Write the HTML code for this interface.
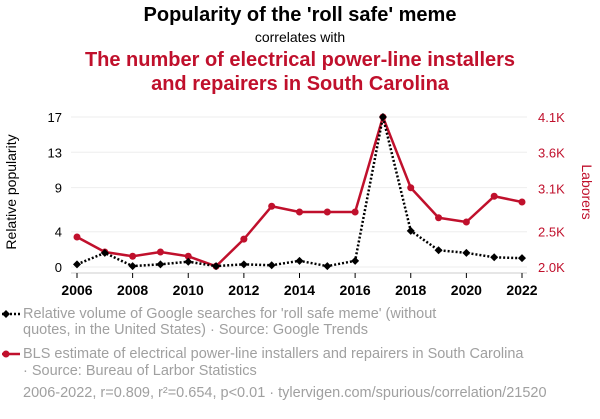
<!DOCTYPE html>
<html><head><meta charset="utf-8">
<style>
body{margin:0;background:#fff;font-family:"Liberation Sans",sans-serif;}
svg text{font-family:"Liberation Sans",sans-serif;}
</style></head>
<body>
<svg width="600" height="414" viewBox="0 0 600 414">
<text x="300" y="21" text-anchor="middle" font-size="20" font-weight="bold" fill="#000">Popularity of the 'roll safe' meme</text>
<text x="300" y="42" text-anchor="middle" font-size="14" fill="#000">correlates with</text>
<text x="300" y="66" text-anchor="middle" font-size="20" font-weight="bold" fill="#c0102c">The number of electrical power-line installers</text>
<text x="300" y="90" text-anchor="middle" font-size="20" font-weight="bold" fill="#c0102c">and repairers in South Carolina</text>
<g id="grid"></g>
<line x1="71" y1="273" x2="527" y2="273" stroke="#ccc" stroke-width="1"/>
<g id="axes"></g>
<text transform="translate(16,192) rotate(-90)" text-anchor="middle" font-size="14" fill="#000">Relative popularity</text>
<text transform="translate(582,192) rotate(90)" text-anchor="middle" font-size="14" fill="#c0102c">Laborers</text>
<g id="series"></g>
<g>
<line x1="2" y1="314" x2="20" y2="314" stroke="#000" stroke-width="2.5" stroke-dasharray="2,2"/>
<path d="M2 314 L6 310 L10 314 L6 318 Z" fill="#000"/>
<text x="23" y="318" font-size="14.5" fill="#a0a0a0">Relative volume of Google searches for 'roll safe meme' (without</text>
<text x="23" y="334" font-size="14.5" fill="#a0a0a0">quotes, in the United States) · Source: Google Trends</text>
</g>
<g>
<line x1="2" y1="354" x2="20" y2="354" stroke="#c0102c" stroke-width="2.5"/>
<circle cx="6" cy="354" r="3.5" fill="#c0102c"/>
<text x="23" y="358" font-size="14.5" fill="#a0a0a0">BLS estimate of electrical power-line installers and repairers in South Carolina</text>
<text x="23" y="375" font-size="14.5" fill="#a0a0a0">· Source: Bureau of Larbor Statistics</text>
</g>
<text x="23" y="397" font-size="14.5" fill="#a0a0a0">2006-2022, r=0.809, r²=0.654, p&lt;0.01 · tylervigen.com/spurious/correlation/21520</text>
</svg>
<script>
const years=[2006,2007,2008,2009,2010,2011,2012,2013,2014,2015,2016,2017,2018,2019,2020,2021,2022];
const popularity=[0.3,1.6,0.1,0.3,0.6,0.1,0.3,0.2,0.7,0.1,0.7,17,4.1,1.9,1.6,1.1,1.0];
const laborers=[2420,2210,2150,2210,2150,2010,2390,2850,2770,2770,2770,4100,3110,2690,2630,2990,2910];
const xTicks=[2006,2008,2010,2012,2014,2016,2018,2020,2022];
const leftTicks=[0,4,9,13,17];
const rightTicks=[2000,2500,3100,3600,4100];
const rightTickLabels=["2.0K","2.5K","3.1K","3.6K","4.1K"];
const NS="http://www.w3.org/2000/svg";
const X=y=>77+(y-2006)*(522-77)/16;
const YL=v=>267-v*150/17;
const YR=v=>267-(v-2000)*150/2100;
function mk(tag,attrs,parent){const e=document.createElementNS(NS,tag);for(const k in attrs)e.setAttribute(k,attrs[k]);parent.appendChild(e);return e;}
const grid=document.getElementById('grid'),axes=document.getElementById('axes'),series=document.getElementById('series');
leftTicks.forEach((t,i)=>{
 const g=mk('line',{x1:71,x2:527,y1:YL(t),y2:YL(t),stroke:'#eee','stroke-width':1},grid);
 
 
 const tx=mk('text',{x:62,y:YL(t)+5,'text-anchor':'end','font-size':13,fill:'#000'},axes);
 tx.textContent=t;
 
 
});
rightTicks.forEach((t,i)=>{
 const tx=mk('text',{x:538,y:YR(t)+5,'font-size':13,fill:'#c0102c'},axes);
 tx.textContent=rightTickLabels[i];
 
 
});
xTicks.forEach(t=>{
 const tk=mk('line',{x1:X(t),x2:X(t),y1:273,y2:278,stroke:'#000','stroke-width':1},axes);
 
 
 const tx=mk('text',{x:X(t),y:295,'text-anchor':'middle','font-size':14,'font-weight':'bold',fill:'#000'},axes);
 tx.textContent=t;
 
 
});
const redLine=mk('polyline',{points:years.map((y,i)=>X(y)+','+YR(laborers[i])).join(' '),fill:'none',stroke:'#c0102c','stroke-width':2.5,'stroke-linejoin':'round'},series);


years.forEach((y,i)=>{
 const c=mk('circle',{cx:X(y),cy:YR(laborers[i]),r:3.5,fill:'#c0102c'},series);
 
 
});
const blackLine=mk('polyline',{points:years.map((y,i)=>X(y)+','+YL(popularity[i])).join(' '),fill:'none',stroke:'#000','stroke-width':2.5,'stroke-dasharray':'2,2'},series);


years.forEach((y,i)=>{
 const cx=X(y),cy=YL(popularity[i]);
 const d=mk('path',{d:`M${cx-4} ${cy} L${cx} ${cy-4} L${cx+4} ${cy} L${cx} ${cy+4} Z`,fill:'#000'},series);
 
 
});
</script>
</body></html>
